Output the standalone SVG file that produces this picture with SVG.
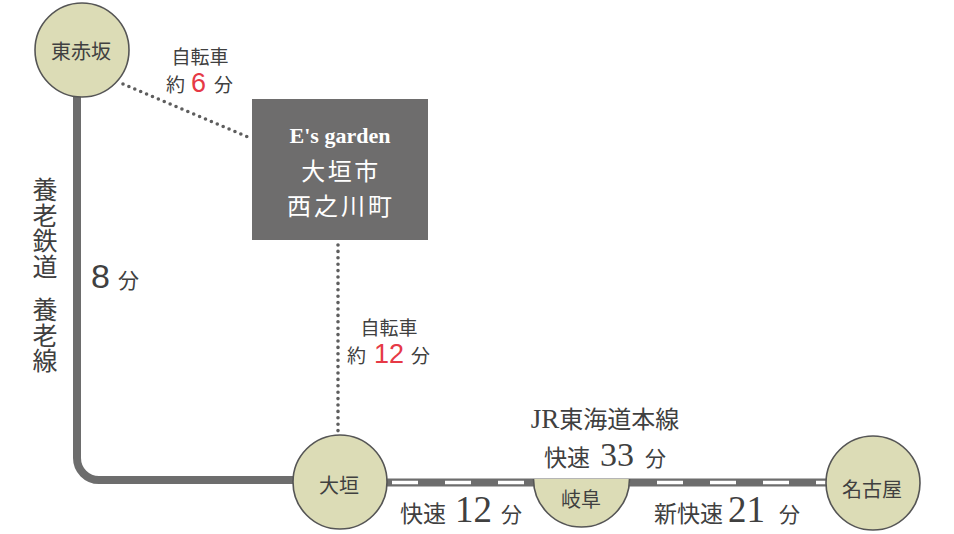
<svg xmlns="http://www.w3.org/2000/svg" width="954" height="534" viewBox="0 0 954 534">
<style>
.jp{font-family:"Noto Sans CJK JP","Noto Sans",sans-serif;fill:#404040;font-weight:400}
.num{font-family:"Liberation Serif","DejaVu Serif",serif;fill:#404040}
.sans{font-family:"Liberation Sans","DejaVu Sans",sans-serif;fill:#404040}
.red{fill:#e63946}
.st{fill:#dcdcb6;stroke:#555;stroke-width:1.6}
.rail{fill:none;stroke:#6d6d6d;stroke-width:8}
.dot{fill:none;stroke:#5e5e5e;stroke-width:3.6;stroke-linecap:round;stroke-dasharray:0 6.4}
.wj{font-family:"Noto Sans CJK JP",sans-serif;fill:#fff}
</style>
<rect width="954" height="534" fill="#fff"/>
<g id="connectors">
<path class="rail" d="M77,95 V458 A22,22 0 0 0 99,480 H300"/>
<path class="rail" d="M380,482.5 H830"/>
<path d="M392,482.5 H826" fill="none" stroke="#fff" stroke-width="3.5" stroke-dasharray="26 27"/>
<path class="dot" d="M123,84 L248,137"/>
<path class="dot" d="M338,245 V433"/>
</g>
<g id="box">
<rect x="252" y="99" width="176" height="141" fill="#6e6d6d"/>
<text x="340" y="143" text-anchor="middle" font-family="Liberation Serif,serif" font-weight="bold" font-size="22" fill="#fff">E's garden</text>
<text x="341" y="180" text-anchor="middle" class="wj" font-size="24" letter-spacing="2.5">大垣市</text>
<text x="341" y="215" text-anchor="middle" class="wj" font-size="24" letter-spacing="3">西之川町</text>
</g>
<g id="higashiakasaka">
<circle class="st" cx="82" cy="50" r="47"/>
<text x="81" y="59" text-anchor="middle" class="jp" font-size="20">東赤坂</text>
</g>
<g id="ogaki">
<circle class="st" cx="340" cy="482" r="47"/>
<text x="339" y="493" text-anchor="middle" class="jp" font-size="20">大垣</text>
</g>
<g id="gifu">
<path class="st" d="M533.5,479 A48,48 0 0 0 629.5,479 Z" style="stroke:none"/>
<path d="M533.5,479 A48,48 0 0 0 629.5,479" fill="none" stroke="#555" stroke-width="1.6"/>
<text x="581" y="507" text-anchor="middle" class="jp" font-size="20">岐阜</text>
</g>
<g id="nagoya">
<circle class="st" cx="873" cy="483" r="47"/>
<text x="872" y="497" text-anchor="middle" class="jp" font-size="20">名古屋</text>
</g>
<g id="labels">
<text x="200" y="64" text-anchor="middle" class="jp" font-size="19">自転車</text>
<text class="jp" font-size="19" y="92"><tspan x="166">約</tspan><tspan x="191" class="sans red" font-size="27">6</tspan><tspan x="214">分</tspan></text>
<text x="45" y="177" class="jp" font-size="25" letter-spacing="0.5" style="writing-mode:vertical-rl">養老鉄道<tspan y="297">養老線</tspan></text>
<text y="288" class="jp"><tspan x="91" class="sans" font-size="34">8</tspan><tspan x="118" font-size="21">分</tspan></text>
<text x="389" y="335" text-anchor="middle" class="jp" font-size="19">自転車</text>
<text class="jp" font-size="19" y="363"><tspan x="347">約</tspan><tspan x="374" class="sans red" font-size="27">12</tspan><tspan x="411">分</tspan></text>
<text x="605" y="428" text-anchor="middle" class="jp" font-size="24"><tspan class="num" font-size="27">JR</tspan>東海道本線</text>
<text class="jp" font-size="23" y="466"><tspan x="544">快速</tspan><tspan x="600" class="num" font-size="34">33</tspan><tspan x="645" font-size="21">分</tspan></text>
<text class="jp" font-size="23" y="522"><tspan x="400">快速</tspan><tspan x="455" class="num" font-size="37">12</tspan><tspan x="501" font-size="21">分</tspan></text>
<text class="jp" font-size="23" y="522"><tspan x="654">新快速</tspan><tspan x="728" class="num" font-size="37">21</tspan><tspan x="779" font-size="21">分</tspan></text>
</g>
</svg>
